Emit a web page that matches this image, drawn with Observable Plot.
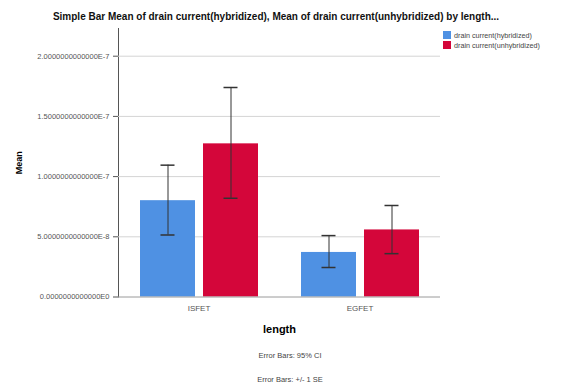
<!DOCTYPE html>
<html>
<head>
<meta charset="utf-8">
<script src="https://cdn.jsdelivr.net/npm/d3@7"></script>
<script src="https://cdn.jsdelivr.net/npm/@observablehq/plot@0.6"></script>
<style>
  body { margin: 0; background: #fff; font-family: "Liberation Sans", Arial, sans-serif; }
  #wrap { position: relative; width: 561px; height: 383px; overflow: hidden; }
  #title { position: absolute; left: 0; width: 552px; top: 11px; text-align: center; font-size: 10px; font-weight: bold; color: #111; white-space: nowrap; }
  #chart { position: absolute; left: 0; top: 22px; }
  #legend { position: absolute; left: 443px; top: 31px; font-size: 7.2px; color: #444; line-height: 10px; white-space: nowrap; }
  #legend .sw { display: inline-block; width: 8px; height: 8px; vertical-align: -1px; margin-right: 3px; }
  .foot { position: absolute; left: 0; width: 580px; text-align: center; font-size: 7.5px; color: #444; }
  g[aria-label="y-axis label"] text { font-weight: bold; font-size: 9px; fill: #000; }
  g[aria-label="fx-axis label"] text { font-weight: bold; font-size: 11px; fill: #000; }
  g[aria-label="fx-axis tick label"] text { font-size: 8px; }
</style>
</head>
<body>
<div id="wrap">
  <div id="title">Simple Bar Mean of drain current(hybridized), Mean of drain current(unhybridized) by length...</div>
  <div id="chart"></div>
  <div id="legend"></div>
  <div class="foot" style="top:351px">Error Bars: 95% CI</div>
  <div class="foot" style="top:375px">Error Bars: +/- 1 SE</div>
</div>
<script>
const lengths = ["ISFET", "EGFET"];
const series = ["drain current(hybridized)", "drain current(unhybridized)"];
const colors = ["#4f91e3", "#d4063a"];
const hybMean = [8.0e-8, 3.7e-8];
const hybLow = [5.15e-8, 2.45e-8];
const hybHigh = [1.095e-7, 5.1e-8];
const unhybMean = [1.272e-7, 5.57e-8];
const unhybLow = [8.2e-8, 3.6e-8];
const unhybHigh = [1.74e-7, 7.6e-8];
const yTicks = [0, 5e-8, 1e-7, 1.5e-7, 2e-7];
const yTickLabels = ["0.0000000000000E0", "5.0000000000000E-8", "1.0000000000000E-7", "1.5000000000000E-7", "2.0000000000000E-7"];

const data = [];
lengths.forEach((l, i) => {
  data.push({length: l, series: series[0], mean: hybMean[i], lo: hybLow[i], hi: hybHigh[i]});
  data.push({length: l, series: series[1], mean: unhybMean[i], lo: unhybLow[i], hi: unhybHigh[i]});
});

const chart = Plot.plot({
  width: 561,
  height: 320,
  marginTop: 6,
  marginLeft: 118,
  marginRight: 121,
  marginBottom: 45.5,
  style: {fontSize: "7.5px", fontFamily: "Liberation Sans, Arial, sans-serif", color: "#555", background: "transparent"},
  fx: {domain: lengths, padding: 0, label: "length", labelAnchor: "center", labelOffset: 36, tickSize: 0, tickPadding: 8},
  x: {domain: series, axis: null, paddingInner: 0.127, paddingOuter: 0.341},
  y: {domain: [0, 2.23e-7], ticks: yTicks, tickFormat: d => yTickLabels[yTicks.indexOf(d)], label: "Mean", labelAnchor: "center", labelOffset: 103, labelArrow: false, tickSize: 5, line: true},
  color: {domain: series, range: colors},
  marks: [
    Plot.gridY(yTicks.slice(1), {stroke: "#d4d4d4", strokeOpacity: 1}),
    Plot.barY(data, {fx: "length", x: "series", y: "mean", fill: "series"}),
    Plot.ruleY([0], {stroke: "#9a9a9a"}),
    Plot.ruleX(data, {fx: "length", x: "series", y1: "lo", y2: "hi", stroke: "#333", strokeWidth: 1}),
    Plot.tickY(data, {fx: "length", x: "series", y: "lo", stroke: "#333", strokeWidth: 1.5, insetLeft: 20.5, insetRight: 20.5}),
    Plot.tickY(data, {fx: "length", x: "series", y: "hi", stroke: "#333", strokeWidth: 1.5, insetLeft: 20.5, insetRight: 20.5})
  ]
});
document.getElementById("chart").appendChild(chart);

const legend = document.getElementById("legend");
series.forEach((s, i) => {
  const row = document.createElement("div");
  row.innerHTML = `<span class="sw" style="background:${colors[i]}"></span>${s}`;
  legend.appendChild(row);
});
</script>
</body>
</html>
